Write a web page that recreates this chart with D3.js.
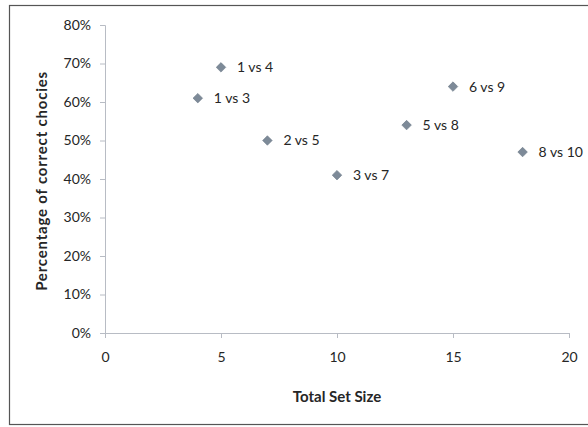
<!DOCTYPE html>
<html>
<head>
<meta charset="utf-8">
<script src="https://cdn.jsdelivr.net/npm/d3@7"></script>
<style>
  html, body { margin: 0; padding: 0; background: #fff; }
  svg { display: block; }
  text { font-family: Lato, "Open Sans", sans-serif; fill: #262626; }
</style>
</head>
<body>
<svg id="chart" width="588" height="427"></svg>
<script>
// Comparison pairs: total set size vs share of correct choices
const pairLabels = ["1 vs 3", "1 vs 4", "2 vs 5", "3 vs 7", "5 vs 8", "6 vs 9", "8 vs 10"];
const totalSetSize = [4, 5, 7, 10, 13, 15, 18];
const pctCorrect = [0.61, 0.69, 0.50, 0.41, 0.54, 0.64, 0.47];
const xTicks = [0, 5, 10, 15, 20];
const yTicks = [0, 0.1, 0.2, 0.3, 0.4, 0.5, 0.6, 0.7, 0.8];

const svg = d3.select("#chart");

// chart frame
svg.append("rect")
  .attr("x", 9.5).attr("y", 5.5)
  .attr("width", 590).attr("height", 419)
  .attr("fill", "none")
  .attr("stroke", "#555")
  .attr("stroke-width", 1.2);

const x = d3.scaleLinear().domain([0, 20]).range([105, 569]);
const y = d3.scaleLinear().domain([0, 0.8]).range([333, 25]);

// y axis
const yAxis = svg.append("g")
  .attr("transform", `translate(${x(0)},0)`)
  .call(d3.axisLeft(y).tickValues(yTicks).tickFormat(d3.format(".0%")).tickSize(5).tickPadding(9));
yAxis.select(".domain").attr("stroke", "#b8bcc4");
yAxis.selectAll(".tick line").attr("stroke", "#b8bcc4");
yAxis.selectAll("text").style("font-size", "14px").attr("fill", "#262626");

// x axis
const xAxis = svg.append("g")
  .attr("transform", `translate(0,${y(0)})`)
  .call(d3.axisBottom(x).tickValues(xTicks).tickSize(5).tickPadding(14));
xAxis.select(".domain").attr("stroke", "#b8bcc4");
xAxis.selectAll(".tick line").attr("stroke", "#b8bcc4");
xAxis.selectAll("text").style("font-size", "14px").attr("fill", "#262626");

// axis titles
svg.append("text")
  .attr("x", x(10)).attr("y", 402)
  .attr("text-anchor", "middle")
  .style("font-size", "15px").style("font-weight", "bold")
  .text("Total Set Size");

svg.append("text")
  .attr("transform", `translate(47,${y(0.395)}) rotate(-90)`)
  .attr("text-anchor", "middle")
  .style("font-size", "15px").style("font-weight", "bold")
  .style("letter-spacing", "0.8px")
  .text("Percentage of correct chocies");

// points
const pts = pairLabels.map((l, i) => ({ label: l, sx: totalSetSize[i], pv: pctCorrect[i] }));
const diamond = d3.symbol().type(d3.symbolDiamond2).size(58);

const g = svg.append("g");
g.selectAll("path.pt").data(pts).join("path")
  .attr("class", "pt")
  .attr("transform", d => `translate(${x(d.sx)},${y(d.pv)})`)
  .attr("d", diamond)
  .attr("fill", "#7d8a98")
  .attr("stroke", "#6b7886")
  .attr("stroke-width", 0.6);

g.selectAll("text.lbl").data(pts).join("text")
  .attr("class", "lbl")
  .attr("x", d => x(d.sx) + 16)
  .attr("y", d => y(d.pv))
  .attr("dy", "0.35em")
  .style("font-size", "14px")
  .text(d => d.label);
</script>
</body>
</html>
